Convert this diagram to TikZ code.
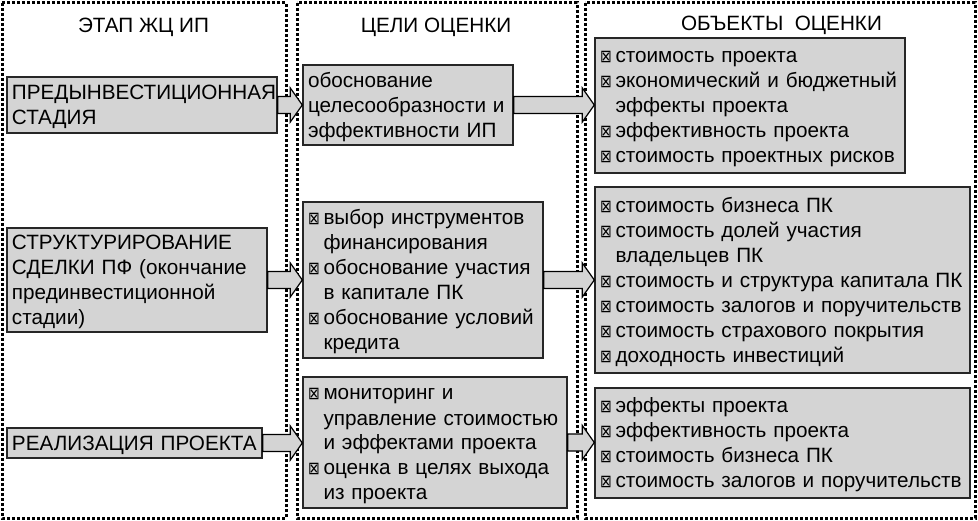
\documentclass[tikz,border=0pt]{standalone}
\usepackage{fontspec}
\usepackage{graphicx}
\setmainfont{Liberation Sans}
\newfontfamily\dejavu{DejaVu Sans}
\usetikzlibrary{calc}
\definecolor{boxgray}{RGB}{212,212,212}
\newcommand\bul{\raisebox{0.3pt}{\scalebox{1}[1.25]{\dejavu\fontsize{14}{14}\selectfont ⊠}}}
\newcommand\bi[1]{\makebox[15.5pt][l]{\bul}#1}
\newcommand\bc[1]{\hspace*{15.5pt}#1}
\newcommand\tx[1]{\raisebox{-2.5pt}[\height][\depth]{\begin{tabular}{@{}l@{}}#1\end{tabular}}}
\newcommand\blockarrow[2]{%
  \draw[arr] let \p1=(#1.east), \p2=(#2.west) in
    (\x1,\y1+8.5pt) -- (\x2-12pt,\y1+8.5pt) -- (\x2-12pt,\y1+17pt) -- (\x2,\y1)
    -- (\x2-12pt,\y1-17pt) -- (\x2-12pt,\y1-8.5pt) -- (\x1,\y1-8.5pt) -- cycle;}
\tikzset{
  colbox/.style={draw=black, line width=3pt, dash pattern=on 3pt off 2pt},
  box/.style={draw=black!85, line width=1.4pt, fill=boxgray, inner xsep=5pt, inner ysep=0pt,
    align=left, font=\fontsize{20.7}{25}\selectfont},
  arr/.style={draw=black, line width=1.2pt, fill=boxgray, line join=miter},
  title/.style={font=\fontsize{20.7}{25}\selectfont, anchor=base, inner sep=0pt}
}
\begin{document}
\begin{tikzpicture}[x=1pt,y=-1pt]
\useasboundingbox (0,0) rectangle (978,521);
% columns
\draw[colbox] (2,3) rectangle (286,518);
\draw[colbox] (297,3) rectangle (577,518);
\draw[colbox] (585,3) rectangle (975,518);
% titles
\node[title] (t1) at (143.5,33) {ЭТАП ЖЦ ИП};
\node[title] (t2) at (436,33) {ЦЕЛИ ОЦЕНКИ};
\node[title] (t3) at (781.5,31) {ОБЪЕКТЫ\ \ ОЦЕНКИ};
% left column
\node[box, text width=260pt, minimum height=56pt] (A) at (142,105)
  {\tx{ПРЕДЫНВЕСТИЦИОННАЯ\\СТАДИЯ}};
\node[box, text width=250pt, minimum height=104pt] (B) at (137,280)
  {\tx{СТРУКТУРИРОВАНИЕ\\СДЕЛКИ ПФ (окончание\\прединвестиционной\\стадии)}};
\node[box, text width=245pt, minimum height=30pt] (C) at (134.5,443)
  {\tx{РЕАЛИЗАЦИЯ ПРОЕКТА}};
% middle column
\node[box, text width=200pt, minimum height=80pt] (M1) at (408,105)
  {\tx{обоснование\\целесообразности и\\эффективности ИП}};
\node[box, text width=230pt, minimum height=156pt] (M2) at (423,280)
  {\tx{\bi{выбор инструментов}\\\bc{финансирования}\\\bi{обоснование участия}\\\bc{в капитале ПК}\\\bi{обоснование условий}\\\bc{кредита}}};
\node[box, text width=254pt, minimum height=131pt] (M3) at (435,442.5)
  {\tx{\bi{мониторинг и}\\\bc{управление стоимостью}\\\bc{и эффектами проекта}\\\bi{оценка в целях выхода}\\\bc{из проекта}}};
% right column
\node[box, text width=300pt, minimum height=135pt] (R1) at (750,105.5)
  {\tx{\bi{стоимость проекта}\\\bi{экономический и бюджетный}\\\bc{эффекты проекта}\\\bi{эффективность проекта}\\\bi{стоимость проектных рисков}}};
\node[box, text width=365pt, minimum height=186pt] (R2) at (782.5,280)
  {\tx{\bi{стоимость бизнеса ПК}\\\bi{стоимость долей участия}\\\bc{владельцев ПК}\\\bi{стоимость и структура капитала ПК}\\\bi{стоимость залогов и поручительств}\\\bi{стоимость страхового покрытия}\\\bi{доходность инвестиций}}};
\node[box, text width=365pt, minimum height=110pt] (R3) at (782.5,443)
  {\tx{\bi{эффекты проекта}\\\bi{эффективность проекта}\\\bi{стоимость бизнеса ПК}\\\bi{стоимость залогов и поручительств}}};
% arrows
\blockarrow{A}{M1}
\blockarrow{M1}{R1}
\blockarrow{B}{M2}
\blockarrow{M2}{R2}
\blockarrow{C}{M3}
\blockarrow{M3}{R3}
\end{tikzpicture}
\end{document}
